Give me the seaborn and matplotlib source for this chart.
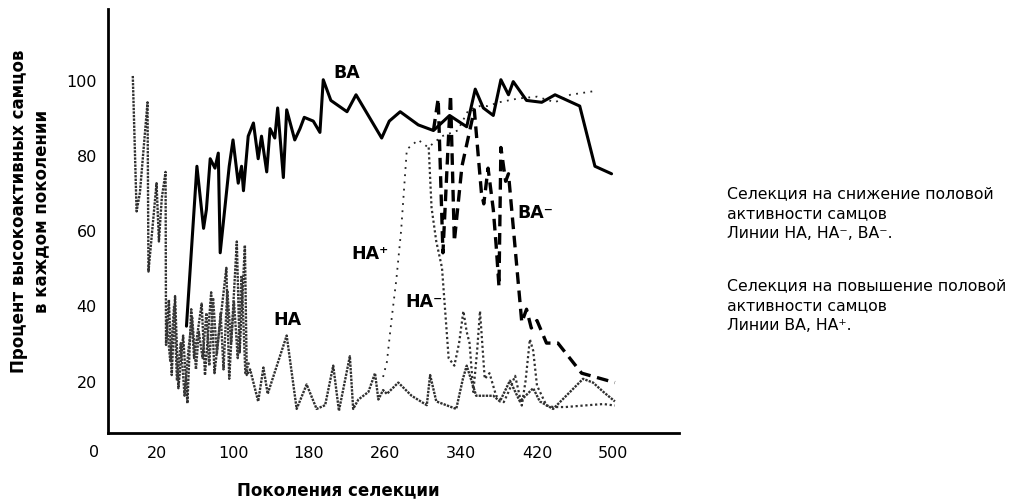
import matplotlib
matplotlib.use("Agg")
import matplotlib.pyplot as plt
import seaborn as sns
import pandas as pd

# --- data (generation, % highly active males) ---
ba_gen = [51, 62, 69, 72, 76, 81, 84.5, 86.5, 96, 100, 105.5, 109, 111, 116, 121.5,
          126.5, 130, 135.5, 139, 144, 147, 153, 156.5, 165, 170.5, 175, 184.5, 191.5,
          195, 203, 220, 229.5, 256.5, 264.5, 276, 295, 311, 328, 346, 355, 363.5,
          374, 382, 390, 395, 409, 425, 439, 465, 481, 498.5]
ba_val = [34.5, 77, 60.5, 65.5, 79, 76.5, 80.5, 54, 77, 84, 72.5, 77, 70.5, 85, 88.5,
          79, 85, 75.5, 87, 84.5, 92.5, 74, 92, 84, 87, 90, 89, 86, 100, 94.5, 91.5,
          96, 84.5, 89, 91.5, 88, 86.5, 90.5, 87.5, 97.5, 92.5, 90.5, 100, 96, 99.5,
          94.5, 94, 96, 93, 77, 75]

ha_gen = [-5.5, -1.5, 2, 10, 11, 19.5, 22, 25, 29, 29.5, 32.5, 35.5, 39, 42.5, 47.5,
          52, 56, 59, 67, 70.5, 77, 80.5, 86, 93, 96, 104, 107, 112.5, 114.5, 118,
          126.5, 132, 136.5, 156.5, 167, 177.5, 188, 197, 205.5, 211.5, 223, 226.5,
          232, 242.5, 249.5, 253, 258, 262, 274, 288, 304, 307.5, 314, 335, 342, 346,
          356, 374, 381, 391.5, 402, 416, 423, 437, 468.5, 479, 490, 502]
ha_val = [101, 65, 70, 94, 49, 72.5, 57, 68.5, 75.5, 29.5, 41.5, 21.5, 42.5, 18, 32,
          14, 39, 26, 40.5, 21.5, 43.5, 22, 34.5, 50, 20.5, 57, 27.5, 56, 21.5, 23,
          14.5, 23.5, 16.5, 32, 12.5, 19, 12.5, 13.5, 24, 12, 26.5, 12.5, 15, 17, 22,
          15, 17.5, 16.5, 19.5, 16, 13.5, 21.5, 14.5, 12.5, 20.5, 24, 16, 16, 14.5,
          20, 14.5, 18, 14.5, 12.5, 20.5, 19.5, 17, 14.5]

# second early trace in the dense low cluster
ha2_gen = [30, 34, 38, 41, 45, 49, 53, 57, 61, 64, 68, 72, 75, 79, 83, 87, 90, 94,
           98, 101, 105, 109, 113, 117]
ha2_val = [36, 25, 40, 20, 30, 16, 28, 37, 23, 33, 26, 38, 24, 42, 27, 38, 23, 44,
           30, 41, 26, 48, 22, 25]

hap_gen = [258, 262, 267, 272, 277, 283, 295, 305.5, 320, 336.5, 348, 360, 368, 380,
           400, 420, 439, 455, 481]
hap_val = [21, 25, 36.5, 47, 60, 81.5, 84, 82, 85, 86.5, 92, 93, 93, 94, 95, 95.5,
           94, 96, 97]

ham_gen = [306, 309, 314, 320, 327, 333, 338, 342.5, 346, 349, 353, 357, 360, 365,
           370, 377, 385, 390, 397, 404, 408, 412.5, 416, 420, 430, 437, 450, 469,
           490, 502]
ham_val = [82, 66, 57, 50, 26, 24, 30, 38.5, 33, 30, 17, 28, 38.5, 20.5, 22, 16,
           14.3, 17, 21.3, 13.4, 20, 31, 28, 18.7, 13.4, 13, 13, 13.4, 13.8, 13.4]

bam_gen = [311, 316, 321, 329, 333, 341, 354, 361.5, 364, 368.5, 374, 377, 380, 382,
           387, 390, 404, 409, 414, 420, 430, 442, 467, 502]
bam_val = [86.5, 95, 54, 96, 57, 77, 92, 70, 67, 76.5, 65.5, 56, 45, 82, 73, 75,
           35.5, 39, 34, 36, 30, 30, 22, 19.5]

x_ticks = [20, 100, 180, 260, 340, 420, 500]
y_ticks = [20, 40, 60, 80, 100]

labels = [("ВА", 220, 102), ("НА", 157, 36.5), ("НА\u207a", 244, 54),
          ("НА\u207b", 301, 41.3), ("ВА\u207b", 418, 64.8)]

note_down = "Селекция на снижение половой\nактивности самцов\nЛинии НА, НА\u207b, ВА\u207b."
note_up = "Селекция на повышение половой\nактивности самцов\nЛинии ВА, НА\u207a."

sns.set_style("white")
plt.rcParams["font.family"] = ["DejaVu Sans"]
plt.rcParams["text.color"] = "black"
plt.rcParams["xtick.color"] = "black"
plt.rcParams["ytick.color"] = "black"
plt.rcParams["axes.labelcolor"] = "black"

fig = plt.figure(figsize=(10.24, 5.02), dpi=100)
ax = fig.add_axes([108 / 1024, 1 - 434 / 502, (679 - 108) / 1024, (434 - 10) / 502])

series = [
    (ha_gen, ha_val, "#303030", 1.7, (0, (1, 0.5))),
    (ha2_gen, ha2_val, "#3a3a3a", 1.7, (0, (1, 0.5))),
    (hap_gen, hap_val, "#222222", 1.3, (0, (1, 3))),
    (ham_gen, ham_val, "#303030", 1.6, (0, (1, 1.2))),
    (bam_gen, bam_val, "black", 2.4, (0, (3.5, 2))),
    (ba_gen, ba_val, "black", 2.2, "-"),
]
for gx, gy, col, lw, ls in series:
    df = pd.DataFrame({"gen": gx, "pct": gy})
    sns.lineplot(data=df, x="gen", y="pct", ax=ax, color=col, lw=lw, linestyle=ls,
                 estimator=None, sort=False)

for txt, gx, gy in labels:
    ax.text(gx, gy, txt, ha="center", va="center", fontsize=12.5, fontweight="bold")

ax.set_xlim(-31.6, 569.5)
ax.set_ylim(6.1, 118.8)
ax.set_xticks(x_ticks)
ax.set_yticks(y_ticks)
ax.tick_params(axis="both", direction="in", length=12, width=1.5, labelsize=11.5)
ax.tick_params(axis="x", pad=9)
ax.tick_params(axis="y", pad=8)
ax.text(-0.024, -0.043, "0", transform=ax.transAxes, ha="center", va="center",
        fontsize=11.5)
ax.set_xlabel("")
ax.set_ylabel("")
sns.despine(ax=ax)
for s in ["left", "bottom"]:
    ax.spines[s].set_linewidth(2)
    ax.spines[s].set_color("black")

fig.text(30 / 1024, 1 - 211 / 502,
         "Процент высокоактивных самцов\nв каждом поколении",
         rotation=90, ha="center", va="center", fontsize=12, fontweight="bold",
         multialignment="center", linespacing=1.25)
fig.text(338 / 1024, 1 - 490 / 502, "Поколения селекции", ha="center",
         va="center", fontsize=12, fontweight="bold")
fig.text(727 / 1024, 1 - 186 / 502, note_down, ha="left", va="top", fontsize=11.3,
         linespacing=1.4)
fig.text(727 / 1024, 1 - 278 / 502, note_up, ha="left", va="top", fontsize=11.3,
         linespacing=1.4)

fig.savefig("out.png", dpi=100)
